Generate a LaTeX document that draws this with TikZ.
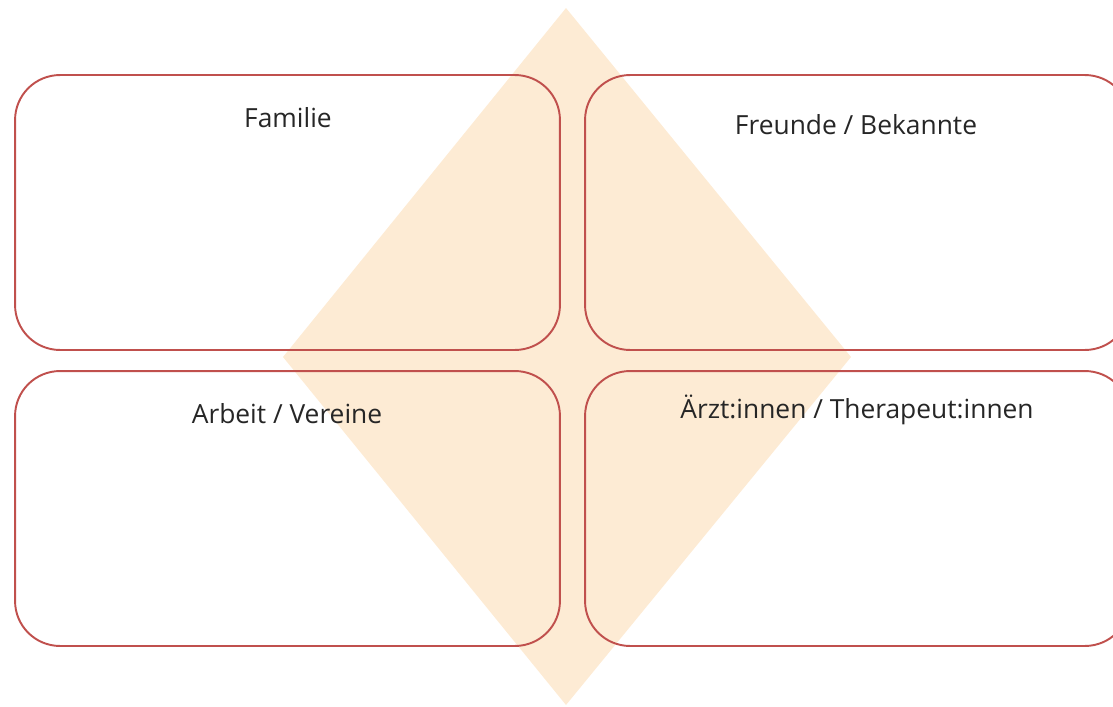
\documentclass[tikz,border=0pt]{standalone}
\usepackage{fontspec}
\setmainfont{Open Sans}
\usepackage{xcolor}
\usetikzlibrary{positioning}
\definecolor{boxred}{HTML}{C0504D}
\definecolor{rautefill}{HTML}{FDEBD4}

\begin{document}
\begin{tikzpicture}[
  x=0.02cm,y=-0.02cm,
  feld/.style={rectangle,draw=boxred,line width=1.1pt,rounded corners=0.9cm,
               minimum width=10.9cm,minimum height=5.5cm},
  titel/.style={font=\fontsize{15}{18}\selectfont,text=black!85,inner sep=0pt}
]
  \useasboundingbox (0,0) rectangle (1113,707);
  \fill[rautefill] (566,8) -- (851,357) -- (566,705) -- (283,357) -- cycle;

  \node[feld] (fam)  at (287.5,212.5) {};
  \node[feld] (freu) at (857.5,212.5) {};
  \node[feld] (arb)  at (287.5,508.5) {};
  \node[feld] (arzt) at (857.5,508.5) {};

  \node[titel] (famT)  at (288,118) {Familie};
  \node[titel] (freuT) at (856,125) {Freunde / Bekannte};
  \node[titel] (arbT)  at (287,414) {Arbeit / Vereine};
  \node[titel] (arztT) at (857,410) {Ärzt:innen / Therapeut:innen};
\end{tikzpicture}
\end{document}
